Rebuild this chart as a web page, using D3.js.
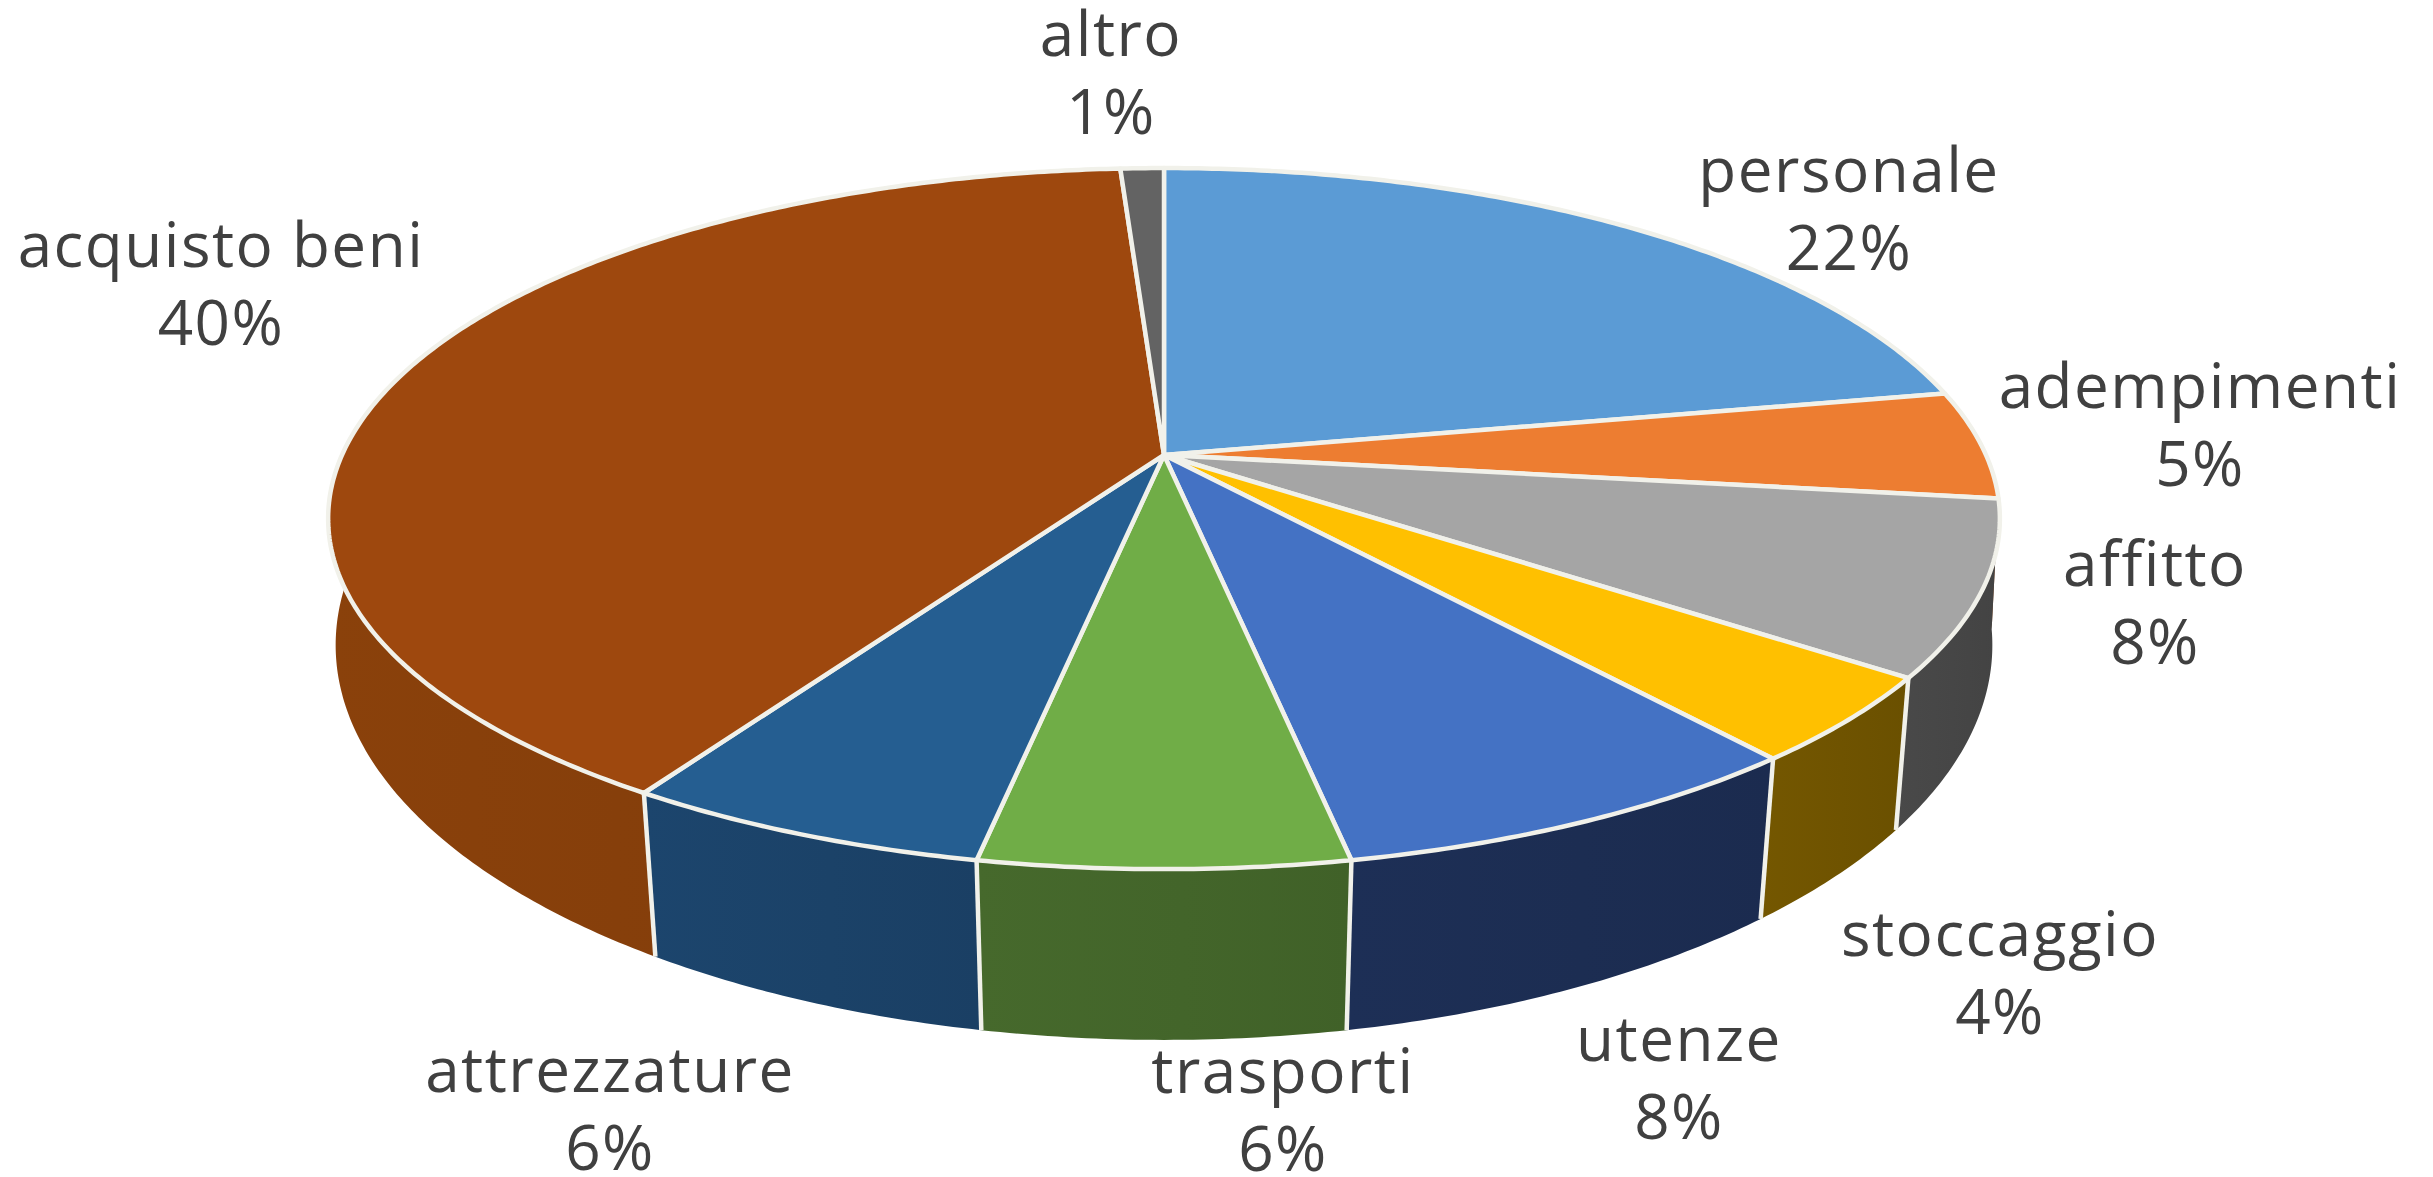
<!DOCTYPE html>
<html>
<head>
<meta charset="utf-8">
<script src="https://cdn.jsdelivr.net/npm/d3@7"></script>
<style>
  html, body { margin: 0; padding: 0; background: #fff; }
  svg { display: block; }
  text { font-family: "Open Sans", sans-serif; fill: #404040; font-size: 62px; letter-spacing: 1.5px; }
</style>
</head>
<body>
<svg id="drawing_region"></svg>
<script>
const categories = ['personale', 'adempimenti', 'affitto', 'stoccaggio', 'utenze', 'trasporti', 'attrezzature', 'acquisto beni', 'altro'];
const shares = [22, 5, 8, 4, 8, 6, 6, 40, 1];
const topColors = ['#5b9bd5', '#ed7d31', '#a5a5a5', '#ffc000', '#4472c4', '#70ad47', '#255e91', '#9e480e', '#636363'];
const wallColors = ['#2e5e8c', '#8f4a1c', '#464646', '#6f5300', '#1c2d52', '#43652a', '#1b4268', '#843e0b', '#3c3c3c'];

// label anchors, same order as categories: centre x, first baseline
const labelX = [1849, 2200, 2155, 2000, 1679, 1283, 610, 221, 1111];
const labelY = [192, 408, 586, 956, 1061, 1093, 1092, 267, 56];

const width = 2433, height = 1177;
const lineGap = 78;

// the pie is a circle seen in perspective, so the centre is not the middle of the ellipse
const topPlane = { cx: 1164, cy: 455, a: 822, b: 339, k: 0.1814 };
const bottomPlane = { cx: 1164, cy: 580, a: 817, b: 384, k: 0.165 };

function project(plane, angle) {
    const u = Math.sin(angle), v = -Math.cos(angle);
    const w = 1 - plane.k * v;
    return [plane.cx + plane.a * u / w, plane.cy + plane.b * v / w];
}

function arcPoints(plane, start, end) {
    const n = Math.max(2, Math.ceil((end - start) / 0.01));
    return d3.range(n + 1).map(i => project(plane, start + (end - start) * i / n));
}

const svg = d3.select('#drawing_region')
    .attr('width', width)
    .attr('height', height);

const slices = d3.pie().sort(null).value(d => d)(shares);
const line = d3.line();

// horizontal shading on the walls
const defs = svg.append('defs');
const grad = defs.selectAll('linearGradient')
    .data(wallColors)
    .join('linearGradient')
    .attr('id', (d, i) => `wall${i}`);
grad.append('stop').attr('offset', '0%').attr('stop-color', d => d3.color(d).brighter(0.12));
grad.append('stop').attr('offset', '55%').attr('stop-color', d => d);
grad.append('stop').attr('offset', '100%').attr('stop-color', d => d3.color(d).darker(0.12));

// walls first, the top covers the hidden back part
svg.append('g').selectAll('path')
    .data(slices)
    .join('path')
    .attr('d', d => line(arcPoints(topPlane, d.startAngle, d.endAngle)
        .concat(arcPoints(bottomPlane, d.startAngle, d.endAngle).reverse())) + 'Z')
    .attr('fill', (d, i) => `url(#wall${i})`);

// seams between the walls, only on the front
const seamAngles = slices.map(d => d.endAngle).filter(a => -Math.cos(a) > 0.3);
svg.append('g').selectAll('path')
    .data(seamAngles)
    .join('path')
    .attr('d', a => line([project(topPlane, a), project(bottomPlane, a)]))
    .attr('stroke', '#f1f1ea')
    .attr('stroke-width', 4.5)
    .attr('fill', 'none');

// top faces
svg.append('g').selectAll('path')
    .data(slices)
    .join('path')
    .attr('d', d => line([[topPlane.cx, topPlane.cy]].concat(arcPoints(topPlane, d.startAngle, d.endAngle))) + 'Z')
    .attr('fill', (d, i) => topColors[i])
    .attr('stroke', '#f1f1ea')
    .attr('stroke-width', 4.5)
    .attr('stroke-linejoin', 'round');

// labels
const labels = svg.append('g').selectAll('g')
    .data(categories)
    .join('g');

labels.append('text')
    .attr('x', (d, i) => labelX[i])
    .attr('y', (d, i) => labelY[i])
    .attr('text-anchor', 'middle')
    .text(d => d);

labels.append('text')
    .attr('x', (d, i) => labelX[i])
    .attr('y', (d, i) => labelY[i] + lineGap)
    .attr('text-anchor', 'middle')
    .text((d, i) => `${shares[i]}%`);
</script>
</body>
</html>
